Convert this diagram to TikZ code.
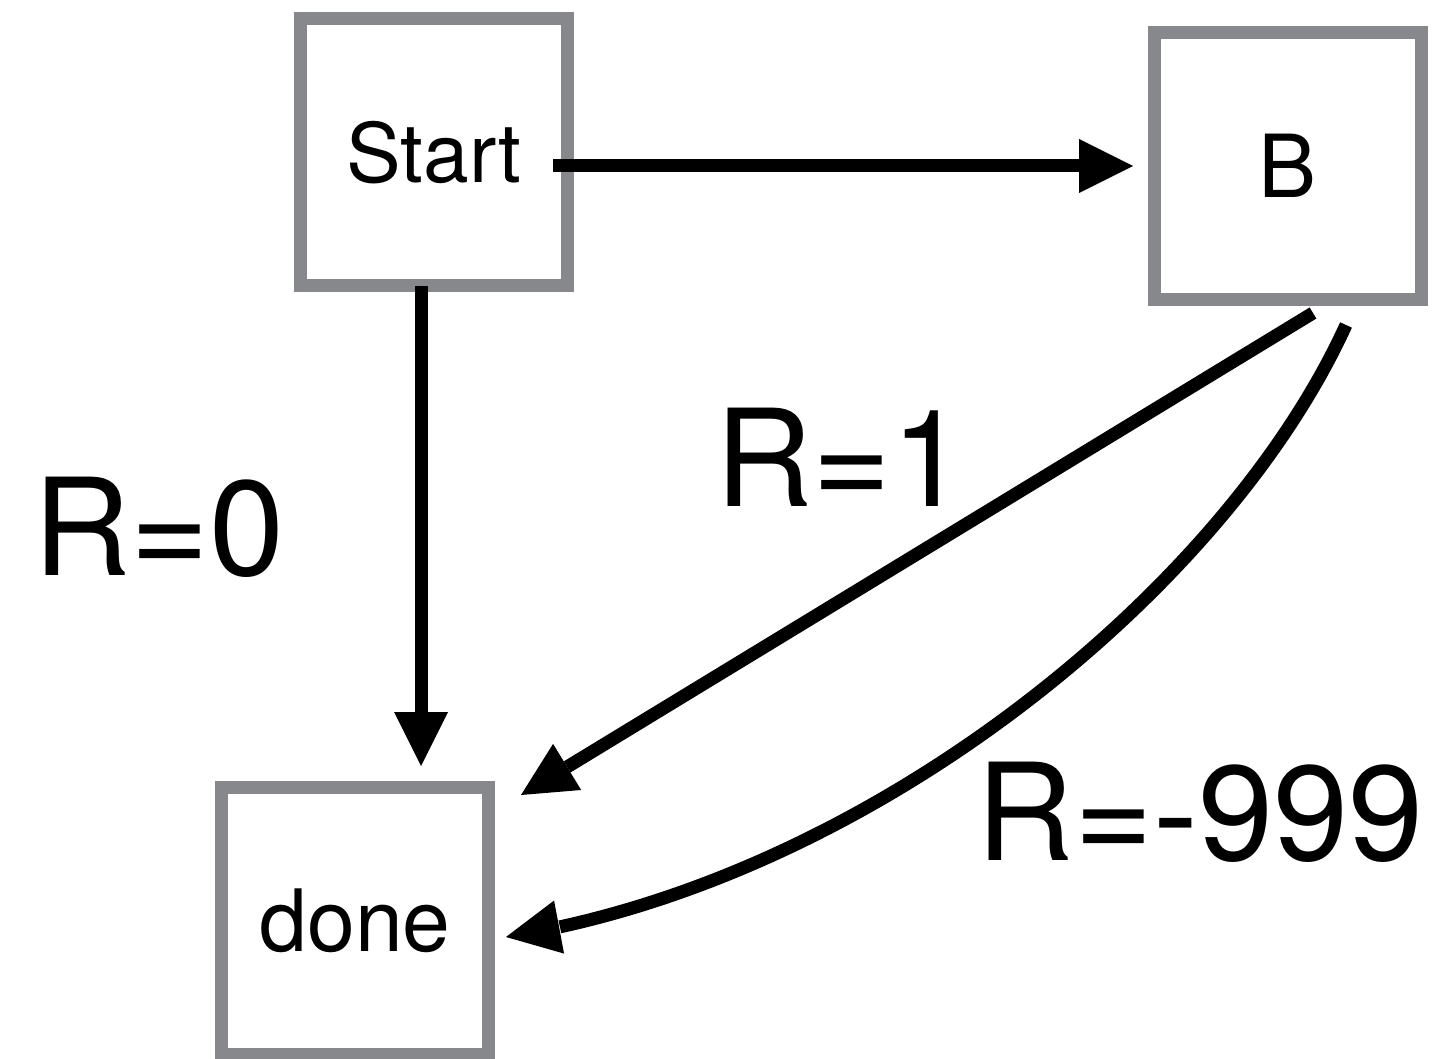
\documentclass[tikz,border=0pt]{standalone}
\usepackage{fontspec}
\setmainfont{TeX Gyre Heros}
\usetikzlibrary{arrows.meta,bending}
\definecolor{boxgray}{HTML}{86888B}
\begin{document}
\begin{tikzpicture}[x=1pt,y=-1pt,
  box/.style={draw=boxgray,line width=13pt,minimum width=267pt,minimum height=267pt,inner sep=0pt},
  arr/.style={line width=13pt,-{Triangle[length=54pt,width=54pt,line width=0pt]}},
  lbl/.style={font=\fontsize{135}{135}\selectfont}
]
\useasboundingbox (0,0) rectangle (1441,1059);
\node[box,font=\fontsize{82}{82}\selectfont] (start) at (434,152.5) {Start};
\node[box,font=\fontsize{87}{87}\selectfont] (B) at (1288,166) {B};
\node[box,font=\fontsize{86}{86}\selectfont] (done) at (355,921) {done};
% Start -> B
\draw[arr] ([xshift=-21pt]start.east |- B.west) -- ([xshift=-15pt]B.west);
% Start -> done
\coordinate (v) at ([xshift=-13pt]start.south);
\draw[arr] ([yshift=6pt]v) -- ([yshift=15pt]v |- done.north);
% B -> done (straight)
\draw[arr] ([xshift=25pt,yshift=-7pt]B.south) -- ([xshift=26pt,yshift=-14pt]done.north east);
% B -> done (curved)
\draw[arr] ([xshift=58pt,yshift=-19pt]B.south) .. controls (1225,590) and (870,880) .. ([xshift=11pt,yshift=-16pt]done.east);
% labels
\node[lbl] (r0) at (159,527.5) {R=0};
\node[lbl] (r1) at (841,457.5) {R=1};
\node[lbl] (r999) at (1200,812) {R=-999};
\end{tikzpicture}
\end{document}
